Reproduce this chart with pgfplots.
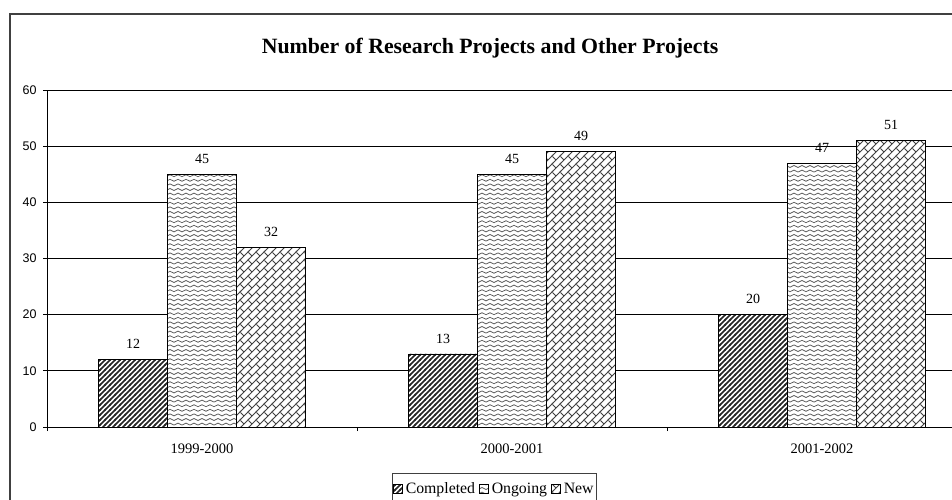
\documentclass[border=0pt]{standalone}
\usepackage{pgfplots}
\pgfplotsset{compat=1.18}
\usetikzlibrary{patterns}
\usepackage{fontspec}
\setmainfont{Liberation Serif}
\newfontfamily\arialf{Liberation Sans}

\pgfdeclarepatternformonly{mydiag}{\pgfqpoint{-1pt}{-1pt}}{\pgfqpoint{6pt}{6pt}}{\pgfqpoint{5pt}{5pt}}{%
  \pgfsetlinewidth{1.5pt}%
  \pgfpathmoveto{\pgfqpoint{-1pt}{-1pt}}\pgfpathlineto{\pgfqpoint{6pt}{6pt}}\pgfusepath{stroke}}
\pgfdeclarepatternformonly{mywave}{\pgfqpoint{-0.5pt}{0pt}}{\pgfqpoint{8.5pt}{4.6pt}}{\pgfqpoint{8pt}{4.6pt}}{%
  \pgfsetlinewidth{0.75pt}%
  \pgfpathmoveto{\pgfqpoint{0pt}{2.3pt}}%
  \pgfpathcurveto{\pgfqpoint{1.3pt}{3.6pt}}{\pgfqpoint{2.7pt}{3.6pt}}{\pgfqpoint{4pt}{2.3pt}}%
  \pgfpathcurveto{\pgfqpoint{5.3pt}{1pt}}{\pgfqpoint{6.7pt}{1pt}}{\pgfqpoint{8pt}{2.3pt}}%
  \pgfusepath{stroke}}
\pgfdeclarepatternformonly{mybrick}{\pgfqpoint{-1pt}{-1pt}}{\pgfqpoint{9pt}{9pt}}{\pgfqpoint{8pt}{8pt}}{%
  \pgfsetlinewidth{0.9pt}%
  \pgfpathmoveto{\pgfqpoint{-1pt}{-1pt}}\pgfpathlineto{\pgfqpoint{9pt}{9pt}}%
  \pgfpathmoveto{\pgfqpoint{4pt}{4pt}}\pgfpathlineto{\pgfqpoint{0.5pt}{7.5pt}}%
  \pgfusepath{stroke}}

\begin{document}
\begin{tikzpicture}[x=1pt,y=1pt]
\useasboundingbox (0,0) rectangle (952,500);
\clip (0,0) rectangle (952,500);
\fill[white] (0,0) rectangle (952,500);
\draw[black!75, line width=1.5pt] (10,-20) rectangle (975,486);
\node[font=\bfseries\fontsize{21.8}{22}\selectfont] at (490,452) {Number of Research Projects and Other Projects};
\begin{axis}[
  at={(47pt,73pt)}, anchor=south west,
  scale only axis, width=930pt, height=337pt,
  xmin=-0.5, xmax=2.5, ymin=0, ymax=60,
  ytick={0,10,...,60},
  ymajorgrids, grid style={black, line width=0.7pt},
  axis x line*=bottom, axis y line*=left,
  axis line style={black, line width=0.8pt},
  tick align=outside, major tick length=4pt,
  tick style={black, line width=0.7pt},
  /pgf/number format/assume math mode=true,
  yticklabel style={font=\arialf\fontsize{12.5}{12.5}\selectfont, xshift=-3pt},
  xtick={-0.5,0.5,1.5,2.5}, xticklabels={},
  extra x ticks={0,1,2}, extra x tick labels={1999-2000,2000-2001,2001-2002},
  extra x tick style={tick style={draw=none}},
  xticklabel style={font=\fontsize{14.5}{14.5}\selectfont, yshift=-9pt},
  every axis plot/.append style={draw=black, line width=0.7pt, bar width=69pt, fill=white},
  nodes near coords,
  nodes near coords style={font=\fontsize{14}{14}\selectfont, black, yshift=7pt},
  legend columns=3,
  legend style={at={(0.481,-0.1365)}, anchor=north, draw=black!75, line width=1pt,
    font=\fontsize{15.8}{15.8}\selectfont, inner xsep=1pt, inner ysep=7pt,
    /tikz/every odd column/.append style={column sep=1pt},
    /tikz/every even column/.append style={column sep=2pt}},
  legend image code/.code={\draw[#1] (0pt,-4.5pt) rectangle (9pt,4.5pt);},
]
\addplot[ybar, bar shift=-69pt, postaction={pattern=mydiag, pattern color=black!85},
  every node near coord/.append style={xshift=-69pt}] coordinates {(0,12) (1,13) (2,20)};
\addplot[ybar, bar shift=0pt, postaction={pattern=mywave, pattern color=black!65}] coordinates {(0,45) (1,45) (2,47)};
\addplot[ybar, bar shift=69pt, postaction={pattern=mybrick, pattern color=black!75},
  every node near coord/.append style={xshift=69pt}] coordinates {(0,32) (1,49) (2,51)};
\legend{Completed,Ongoing,New}
\end{axis}
\end{tikzpicture}
\end{document}
